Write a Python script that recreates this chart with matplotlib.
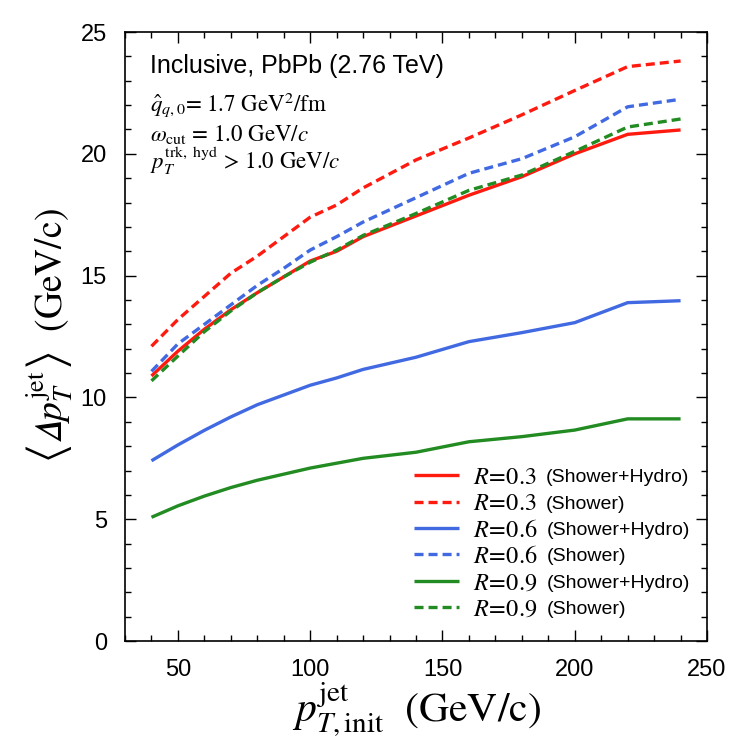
import matplotlib
matplotlib.use("Agg")
import matplotlib.pyplot as plt
from matplotlib.ticker import MultipleLocator

plt.rcParams['mathtext.fontset'] = 'stix'
plt.rcParams['font.family'] = ['Liberation Sans', 'DejaVu Sans']
plt.rcParams['lines.scale_dashes'] = False

pt = [40, 50, 60, 70, 80, 90, 100, 110, 120, 140, 160, 180, 200, 220, 240]

r03_sh = [10.88, 11.9, 12.8, 13.6, 14.3, 14.95, 15.6, 16.0, 16.6, 17.45, 18.3, 19.06, 20.0, 20.8, 20.98]
r03_s = [12.1, 13.2, 14.15, 15.1, 15.8, 16.6, 17.4, 17.9, 18.6, 19.75, 20.65, 21.6, 22.6, 23.58, 23.81]
r06_sh = [7.4, 8.05, 8.65, 9.2, 9.7, 10.1, 10.5, 10.8, 11.15, 11.65, 12.29, 12.66, 13.07, 13.89, 13.97]
r06_s = [11.07, 12.2, 13.0, 13.8, 14.6, 15.3, 16.05, 16.6, 17.2, 18.2, 19.2, 19.8, 20.7, 21.93, 22.24]
r09_sh = [5.08, 5.55, 5.95, 6.3, 6.6, 6.85, 7.1, 7.3, 7.5, 7.75, 8.18, 8.39, 8.66, 9.12, 9.12]
r09_s = [10.68, 11.7, 12.7, 13.55, 14.3, 14.95, 15.55, 16.05, 16.65, 17.55, 18.5, 19.13, 20.1, 21.1, 21.43]

labels = [r"$R\!=\!0.3$", r"$R\!=\!0.3$", r"$R\!=\!0.6$", r"$R\!=\!0.6$", r"$R\!=\!0.9$", r"$R\!=\!0.9$"]
suffixes = ["(Shower+Hydro)", "(Shower)", "(Shower+Hydro)", "(Shower)", "(Shower+Hydro)", "(Shower)"]

RED = '#ff1a10'
BLUE = '#4169e1'
GREEN = '#228b22'

fig = plt.figure(figsize=(7.5, 7.5), dpi=100)
ax = fig.add_axes([0.1667, 0.1453, 0.776, 0.812])

series = [(r03_sh, RED, '-'), (r03_s, RED, '--'),
          (r06_sh, BLUE, '-'), (r06_s, BLUE, '--'),
          (r09_sh, GREEN, '-'), (r09_s, GREEN, '--')]
handles = []
for (vals, c, ls), lab in zip(series, labels):
    if ls == '-':
        h, = ax.plot(pt, vals, color=c, lw=2.4, ls='-', label=lab, solid_capstyle='butt')
    else:
        h, = ax.plot(pt, vals, color=c, lw=2.4, ls='--', dashes=(6.5, 3.6), label=lab)
    handles.append(h)

ax.set_xlim(30, 250)
ax.set_ylim(0, 25)
ax.xaxis.set_major_locator(MultipleLocator(50))
ax.xaxis.set_minor_locator(MultipleLocator(10))
ax.yaxis.set_major_locator(MultipleLocator(5))
ax.yaxis.set_minor_locator(MultipleLocator(1))
ax.tick_params(which='both', direction='in', top=True, right=True, width=1.0)
ax.tick_params(which='major', length=8, labelsize=17)
ax.tick_params(axis='x', which='major', pad=13)
ax.tick_params(axis='y', which='major', pad=13)
ax.tick_params(which='minor', length=4)
for s in ax.spines.values():
    s.set_linewidth(1.2)

ax.set_xlabel(r"$p_{T,\mathrm{init}}^{\mathrm{jet}}\ \ (\mathrm{GeV/c})$", fontsize=30, labelpad=0)
ax.set_ylabel("$\\left\\langle \U0001D6E5 p_T^{\\mathrm{jet}} \\right\\rangle\\ \\ (\\mathrm{GeV/c})$", fontsize=27, labelpad=4)

ax.text(0.043, 0.933, "Inclusive, PbPb (2.76 TeV)", transform=ax.transAxes, fontsize=18, va='baseline', ha='left')
ax.text(0.043, 0.871, r"$\hat{q}_{q,0}$= 1.7 GeV$^2$/fm", transform=ax.transAxes, fontsize=16.5, va='baseline', ha='left', family='STIXGeneral')
ax.text(0.043, 0.8215, r"$\omega_{\mathrm{cut}}$ = 1.0 GeV/$c$", transform=ax.transAxes, fontsize=16.5, va='baseline', ha='left', family='STIXGeneral')
ax.text(0.043, 0.775, r"$p_T^{\mathrm{trk,\ hyd}}$ > 1.0 GeV/$c$", transform=ax.transAxes, fontsize=16.5, va='baseline', ha='left', family='STIXGeneral')

leg = ax.legend(handles=handles, labels=labels, loc='lower left', bbox_to_anchor=(0.497, 0.0333),
                frameon=False, fontsize=17.5, handlelength=1.85, handletextpad=0.55, labelspacing=0.18,
                borderaxespad=0, borderpad=0)

fig.canvas.draw()
renderer = fig.canvas.get_renderer()
inv = fig.transFigure.inverted()
for t, suf in zip(leg.get_texts(), suffixes):
    bb = t.get_window_extent(renderer)
    x, y = inv.transform((bb.x1 + 10, (bb.y0 + bb.y1) / 2))
    fig.text(x, y, suf, fontsize=14, va='center', ha='left')

fig.savefig("out.png", dpi=100)
